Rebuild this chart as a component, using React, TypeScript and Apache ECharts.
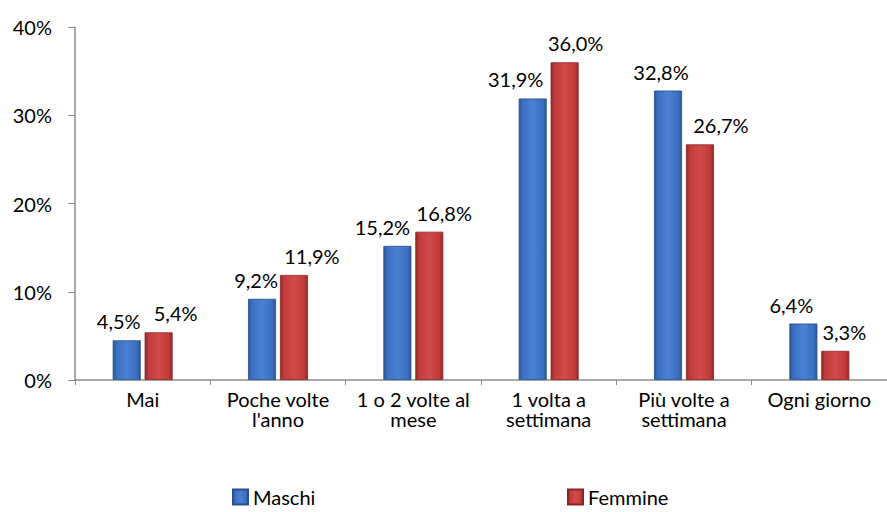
import React, { useEffect, useRef } from "react";
import * as echarts from "echarts";

const categories = ["Mai", "Poche volte\nl'anno", "1 o 2 volte al\nmese", "1 volta a\nsettimana", "Più volte a\nsettimana", "Ogni giorno"];
const maschi = [4.5, 9.2, 15.2, 31.9, 32.8, 6.4];
const femmine = [5.4, 11.9, 16.8, 36.0, 26.7, 3.3];
const yTicks = [0, 10, 20, 30, 40];

// label horizontal offsets (style, px)
const maschiLabelDx = [-8, -6, -15, -17, -7, -12];
const femmineLabelDx = [17, 18, 15, 11, 21, 9];

const FONT = "Lato";
const FS = 20;

function grad(edge: string, mid: string, light: string) {
  return new echarts.graphic.LinearGradient(0, 0, 1, 0, [
    { offset: 0, color: edge },
    { offset: 0.12, color: mid },
    { offset: 0.5, color: light },
    { offset: 0.88, color: mid },
    { offset: 1, color: edge },
  ]);
}

export default function App() {
  const ref = useRef<HTMLDivElement>(null);
  useEffect(() => {
    if (!ref.current) return;
    const chart = echarts.init(ref.current, undefined, { renderer: "svg" });
    const fmt = (v: number) => v.toFixed(1).replace(".", ",") + "%";
    const blue = grad("#2c5596", "#3a6ec0", "#4a80d2");
    const red = grad("#8f2626", "#c13a3a", "#d24a4a");
    const labelBase = {
      show: true,
      position: "top",
      distance: 9,
      fontFamily: FONT,
      fontSize: FS,
      color: "#000",
      formatter: (p: any) => fmt(p.value),
    };
    chart.setOption({
      animation: false,
      textStyle: { fontFamily: FONT },
      grid: { left: 75, right: -7, top: 27, bottom: 132, containLabel: false },
      legend: [
        {
          data: [{ name: "Maschi", icon: "rect" }],
          left: 232,
          top: 487,
          padding: 0,
          itemWidth: 15,
          itemHeight: 15,
          textStyle: { fontFamily: FONT, fontSize: FS, color: "#000" },
        },
        {
          data: [{ name: "Femmine", icon: "rect" }],
          left: 567,
          top: 487,
          padding: 0,
          itemWidth: 15,
          itemHeight: 15,
          textStyle: { fontFamily: FONT, fontSize: FS, color: "#000" },
        },
      ],
      xAxis: {
        type: "category",
        data: categories,
        axisLine: { lineStyle: { color: "#8c8c8c", width: 1.5 } },
        axisTick: { show: true, length: 5, lineStyle: { color: "#8c8c8c" } },
        axisLabel: {
          fontFamily: FONT,
          fontSize: FS,
          color: "#000",
          margin: 9,
          lineHeight: 20,
          interval: 0,
        },
      },
      yAxis: {
        type: "value",
        min: 0,
        max: 40,
        interval: 10,
        splitLine: { show: false },
        axisLine: { show: true, lineStyle: { color: "#8c8c8c", width: 1.5 } },
        axisTick: { show: true, length: 7, lineStyle: { color: "#8c8c8c" } },
        axisLabel: {
          fontFamily: FONT,
          fontSize: FS,
          color: "#000",
          margin: 23,
          formatter: (v: number) => (yTicks.includes(v) ? v + "%" : ""),
        },
      },
      series: [
        {
          name: "Maschi",
          type: "bar",
          data: maschi.map((v, i) => ({ value: v, label: { offset: [maschiLabelDx[i], 0] } })),
          barWidth: 28,
          barGap: "14%",
          itemStyle: { color: blue, borderColor: "#2a4f8c", borderWidth: 0.8 },
          label: labelBase,
        },
        {
          name: "Femmine",
          type: "bar",
          data: femmine.map((v, i) => ({ value: v, label: { offset: [femmineLabelDx[i], 0] } })),
          barWidth: 28,
          itemStyle: { color: red, borderColor: "#8a2424", borderWidth: 0.8 },
          label: labelBase,
        },
      ],
    });
    return () => chart.dispose();
  }, []);
  return <div ref={ref} style={{ width: 887, height: 512, position: "absolute", left: 0, top: 0 }} />;
}
